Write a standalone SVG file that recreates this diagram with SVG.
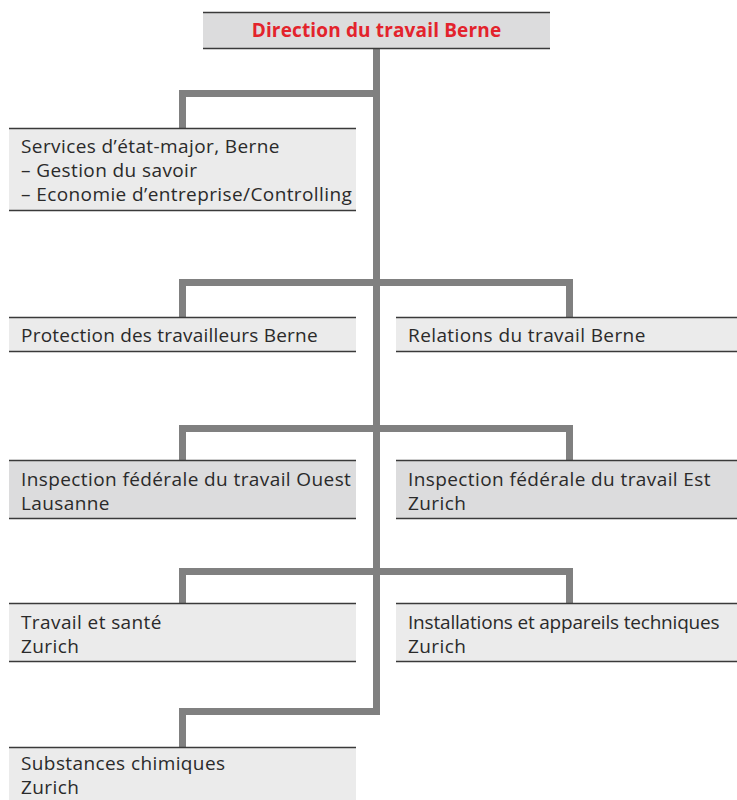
<svg xmlns="http://www.w3.org/2000/svg" width="737" height="800" viewBox="0 0 737 800">
<style>
.box{stroke:none}
.light{fill:#ebebeb}
.dark{fill:#dcdcdd}
.edge{stroke:#3a3a3a;stroke-width:1.5;fill:none}
.t{font-family:"Open Sans","Liberation Sans",sans-serif;font-size:19px;letter-spacing:0.4px;fill:#2a2a2a}
.title{font-family:"Open Sans","Liberation Sans",sans-serif;font-size:19px;letter-spacing:0.15px;font-weight:bold;fill:#e3232c}
.conn{stroke:#808080;stroke-width:7;fill:none;stroke-linejoin:miter}
</style>
<g id="connectors">
<path class="conn" d="M376.5 49 V715"/>
<path class="conn" d="M376.5 93.5 H182.5 V128"/>
<path class="conn" d="M182.5 317 V282.5 H569.5 V317"/>
<path class="conn" d="M182.5 460 V428.5 H569.5 V460"/>
<path class="conn" d="M182.5 603 V571.5 H569.5 V603"/>
<path class="conn" d="M376.5 711.5 H182.5 V747"/>
</g>
<g id="n-direction">
<rect class="dark" x="203" y="12" width="347" height="37"/>
<path class="edge" d="M203 12.5 H550 M203 48.5 H550"/>
<text class="title" x="376.5" y="37" text-anchor="middle">Direction du travail Berne</text>
</g>
<g id="n-services">
<rect class="light" x="9" y="128" width="347" height="83"/>
<path class="edge" d="M9 128.5 H356 M9 210.5 H356"/>
<text class="t" x="21" y="153">Services d’état-major, Berne</text>
<text class="t" x="21" y="177">– Gestion du savoir</text>
<text class="t" x="21" y="201">– Economie d’entreprise/Controlling</text>
</g>
<g id="n-protection">
<rect class="light" x="9" y="317" width="347" height="35"/>
<path class="edge" d="M9 317.5 H356 M9 351.5 H356"/>
<text class="t" x="21" y="342" textLength="297">Protection des travailleurs Berne</text>
</g>
<g id="n-relations">
<rect class="light" x="396" y="317" width="341" height="35"/>
<path class="edge" d="M396 317.5 H737 M396 351.5 H737"/>
<text class="t" x="408" y="342">Relations du travail Berne</text>
</g>
<g id="n-inspection-ouest">
<rect class="dark" x="9" y="460" width="347" height="59"/>
<path class="edge" d="M9 460.5 H356 M9 518.5 H356"/>
<text class="t" x="21" y="486">Inspection fédérale du travail Ouest</text>
<text class="t" x="21" y="510">Lausanne</text>
</g>
<g id="n-inspection-est">
<rect class="dark" x="396" y="460" width="341" height="59"/>
<path class="edge" d="M396 460.5 H737 M396 518.5 H737"/>
<text class="t" x="408" y="486">Inspection fédérale du travail Est</text>
<text class="t" x="408" y="510">Zurich</text>
</g>
<g id="n-travail-sante">
<rect class="light" x="9" y="603" width="347" height="59"/>
<path class="edge" d="M9 603.5 H356 M9 661.5 H356"/>
<text class="t" x="21" y="629">Travail et santé</text>
<text class="t" x="21" y="653">Zurich</text>
</g>
<g id="n-installations">
<rect class="light" x="396" y="603" width="341" height="59"/>
<path class="edge" d="M396 603.5 H737 M396 661.5 H737"/>
<text class="t" x="408" y="629" textLength="312" lengthAdjust="spacing">Installations et appareils techniques</text>
<text class="t" x="408" y="653">Zurich</text>
</g>
<g id="n-substances">
<rect class="light" x="9" y="747" width="347" height="53"/>
<path class="edge" d="M9 747.5 H356"/>
<text class="t" x="21" y="770">Substances chimiques</text>
<text class="t" x="21" y="794">Zurich</text>
</g>
</svg>
